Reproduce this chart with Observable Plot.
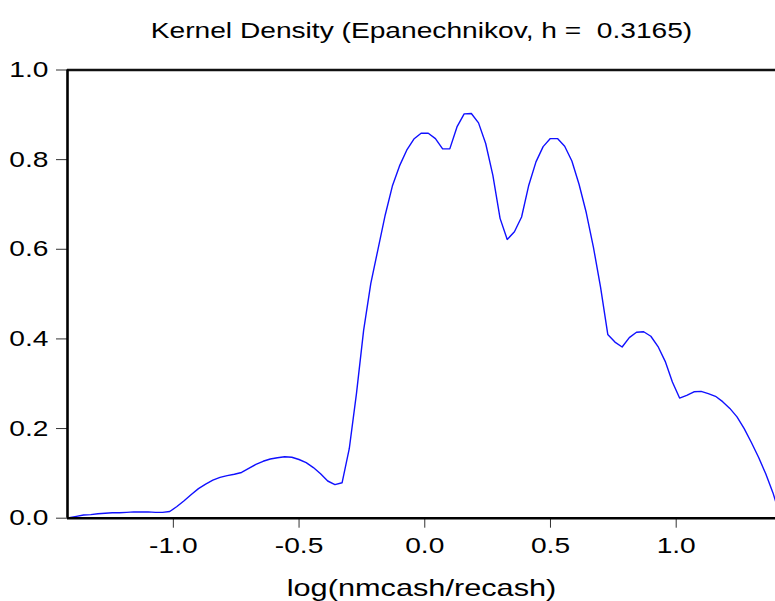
<!DOCTYPE html>
<html>
<head>
<meta charset="utf-8">
<script src="https://cdn.jsdelivr.net/npm/d3@7"></script>
<script src="https://cdn.jsdelivr.net/npm/@observablehq/plot@0.6"></script>
<style>
  html, body { margin: 0; padding: 0; background: #fff; }
  svg text { white-space: pre; }
</style>
</head>
<body>
<div id="chart"></div>
<script>
const titleText = "Kernel Density (Epanechnikov, h =  0.3165)";
const xLabel = "log(nmcash/recash)";
const xTicks = [-1.0, -0.5, 0.0, 0.5, 1.0];
const yTicks = [0.0, 0.2, 0.4, 0.6, 0.8, 1.0];
const xDomain = [-1.421, 1.395];
const yDomain = [0, 1];

const gridX = [
  -1.4427, -1.4141, -1.3856, -1.3570, -1.3285, -1.2999, -1.2713, -1.2428, -1.2142, -1.1857,
  -1.1571, -1.1285, -1.1000, -1.0714, -1.0429, -1.0143, -0.9857, -0.9572, -0.9286, -0.9001,
  -0.8715, -0.8429, -0.8144, -0.7858, -0.7573, -0.7287, -0.7001, -0.6716, -0.6430, -0.6145,
  -0.5859, -0.5573, -0.5288, -0.5002, -0.4717, -0.4431, -0.4145, -0.3860, -0.3574, -0.3289,
  -0.3003, -0.2717, -0.2432, -0.2146, -0.1861, -0.1575, -0.1289, -0.1004, -0.0718, -0.0433,
  -0.0147, 0.0139, 0.0424, 0.0710, 0.0995, 0.1281, 0.1567, 0.1852, 0.2138, 0.2423,
  0.2709, 0.2995, 0.3280, 0.3566, 0.3851, 0.4137, 0.4423, 0.4708, 0.4994, 0.5279,
  0.5565, 0.5851, 0.6136, 0.6422, 0.6707, 0.6993, 0.7279, 0.7564, 0.7850, 0.8135,
  0.8421, 0.8707, 0.8992, 0.9278, 0.9563, 0.9849, 1.0135, 1.0420, 1.0706, 1.0991,
  1.1277, 1.1563, 1.1848, 1.2134, 1.2419, 1.2705, 1.2991, 1.3276, 1.3562, 1.3847,
  1.4133
];
const density = [
  0.000, 0.001, 0.004, 0.007, 0.008, 0.010, 0.011, 0.012, 0.012, 0.013,
  0.014, 0.014, 0.014, 0.013, 0.013, 0.015, 0.026, 0.039, 0.053, 0.066,
  0.076, 0.085, 0.091, 0.095, 0.098, 0.102, 0.111, 0.120, 0.127, 0.132,
  0.135, 0.137, 0.136, 0.131, 0.124, 0.113, 0.099, 0.083, 0.075, 0.079,
  0.155, 0.278, 0.419, 0.524, 0.600, 0.676, 0.741, 0.786, 0.821, 0.846,
  0.859, 0.859, 0.847, 0.824, 0.824, 0.873, 0.902, 0.903, 0.882, 0.836,
  0.765, 0.669, 0.622, 0.639, 0.672, 0.743, 0.795, 0.829, 0.847, 0.847,
  0.830, 0.797, 0.745, 0.682, 0.605, 0.515, 0.410, 0.393, 0.382, 0.403,
  0.415, 0.416, 0.406, 0.383, 0.350, 0.304, 0.268, 0.274, 0.282, 0.283,
  0.278, 0.272, 0.260, 0.245, 0.226, 0.200, 0.169, 0.136, 0.099, 0.057,
  0.005
];

const data = gridX.map((x, i) => ({x, y: density[i]}));
const fmt = d => d.toFixed(1);

const chart = Plot.plot({
  width: 775,
  height: 601,
  marginLeft: 67,
  marginRight: 0,
  marginTop: 69.5,
  marginBottom: 83.3,
  style: {fontFamily: "'Liberation Sans', Arial, sans-serif", fontSize: "22px", background: "#fff", color: "#000"},
  x: {domain: xDomain},
  y: {domain: yDomain},
  marks: [
    Plot.line(data, {x: "x", y: "y", stroke: "#1010ff", strokeWidth: 1.4, clip: true}),
    Plot.axisY({ticks: yTicks, tickFormat: fmt, tickSize: 11, tickPadding: 8, label: null, strokeWidth: 1, stroke: "#333", fontSize: 22}),
    Plot.axisX({ticks: xTicks, tickFormat: fmt, tickSize: 10, tickPadding: 9, label: null, strokeWidth: 1, stroke: "#333", fontSize: 22}),
    Plot.ruleY([0], {strokeWidth: 2.6, stroke: "#000"}),
    Plot.ruleY([1], {strokeWidth: 2.4, stroke: "#111"}),
    Plot.ruleX([xDomain[0]], {strokeWidth: 2.6, stroke: "#000"}),
    Plot.text([titleText], {frameAnchor: "top", lineAnchor: "bottom", dy: -32, fontSize: 22, fill: "#000"}),
    Plot.text([xLabel], {frameAnchor: "bottom", lineAnchor: "bottom", dy: 78, fontSize: 24, fill: "#000"})
  ]
});

d3.select(chart).selectAll("text").each(function() {
  const t = this.getAttribute("transform") || "";
  this.setAttribute("transform", t + " scale(1.28,1)");
});

document.getElementById("chart").appendChild(chart);
</script>
</body>
</html>
